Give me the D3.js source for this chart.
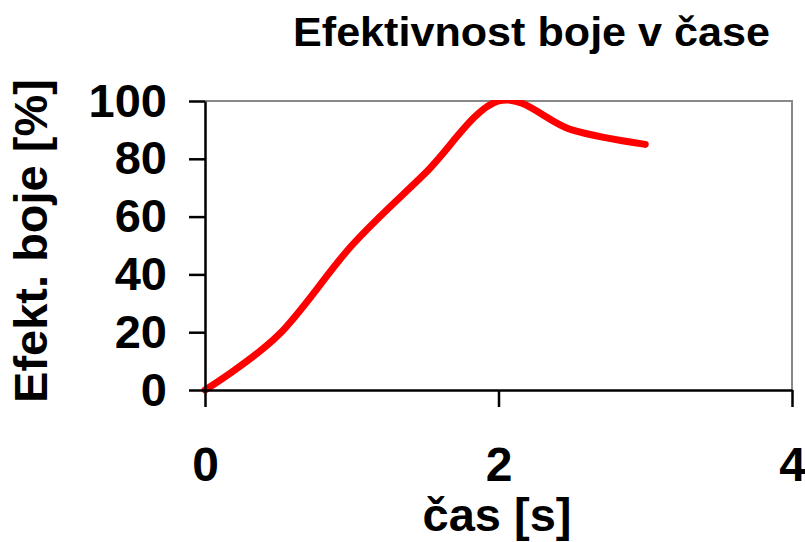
<!DOCTYPE html>
<html>
<head>
<meta charset="utf-8">
<script src="https://cdn.jsdelivr.net/npm/d3@7"></script>
<style>
	body { margin: 0; background: #fff; }
	svg { display: block; font-family: "Liberation Sans", Arial, sans-serif; font-weight: bold; }
</style>
</head>
<body>
<script>
'use strict';

// čas [s] a efektivnost boje [%]
var casy = [0, 0.5, 1, 1.5, 2, 2.5, 3];
var efektivnost = [0, 19, 50, 75, 100, 90, 85];
var xTicks = [0, 2, 4];
var yTicks = [0, 20, 40, 60, 80, 100];

var width = 805, height = 542;
var plot = { left: 205, right: 792, top: 101, bottom: 390 };

var svg = d3.select('body').append('svg')
	.attr('width', width)
	.attr('height', height);

var x = d3.scaleLinear().domain([0, 4]).range([plot.left, plot.right]);
var y = d3.scaleLinear().domain([0, 100]).range([plot.bottom, plot.top]);

// horní a pravý okraj plochy grafu
svg.append('path')
	.attr('d', 'M' + plot.left + ',' + plot.top + 'H' + plot.right + 'V' + plot.bottom)
	.attr('fill', 'none')
	.attr('stroke', '#888')
	.attr('stroke-width', 2);

var data = casy.map(function(c, i) { return { x: c, y: efektivnost[i] }; });

svg.append('clipPath')
	.attr('id', 'plocha')
	.append('rect')
	.attr('x', plot.left - 5)
	.attr('y', plot.top - 1)
	.attr('width', plot.right - plot.left + 10)
	.attr('height', plot.bottom - plot.top + 7);

svg.append('path')
	.datum(data)
	.attr('clip-path', 'url(#plocha)')
	.attr('fill', 'none')
	.attr('stroke', '#ff0000')
	.attr('stroke-width', 7)
	.attr('stroke-linecap', 'round')
	.attr('stroke-linejoin', 'round')
	.attr('d', d3.line()
		.x(function(d) { return x(d.x); })
		.y(function(d) { return y(d.y); })
		.curve(d3.curveCardinal.tension(0)));

var xAxis = svg.append('g')
	.attr('transform', 'translate(0,' + plot.bottom + ')')
	.call(d3.axisBottom(x).tickValues(xTicks).tickFormat(d3.format('d'))
		.tickSize(17).tickPadding(40).tickSizeOuter(0));

var yAxis = svg.append('g')
	.attr('transform', 'translate(' + plot.left + ',0)')
	.call(d3.axisLeft(y).tickValues(yTicks).tickFormat(d3.format('d'))
		.tickSize(16).tickPadding(22).tickSizeOuter(0));

[xAxis, yAxis].forEach(function(a) {
	a.selectAll('path, line').attr('stroke', '#000').attr('stroke-width', 2.5);
	a.selectAll('text')
		.attr('fill', '#000')
		.style('font-family', '"Liberation Sans", Arial, sans-serif')
		.style('font-weight', 'bold');
});
xAxis.selectAll('text').style('font-size', '48px');
yAxis.selectAll('text').style('font-size', '47px');

svg.append('text')
	.attr('x', 293)
	.attr('y', 46)
	.attr('textLength', 477)
	.attr('lengthAdjust', 'spacingAndGlyphs')
	.style('font-size', '41px')
	.text('Efektivnost boje v čase');

svg.append('text')
	.attr('x', 497)
	.attr('y', 531)
	.attr('text-anchor', 'middle')
	.style('font-size', '47px')
	.text('čas [s]');

svg.append('text')
	.attr('transform', 'translate(47,241) rotate(-90)')
	.attr('text-anchor', 'middle')
	.style('font-size', '47px')
	.text('Efekt. boje [%]');
</script>
</body>
</html>
